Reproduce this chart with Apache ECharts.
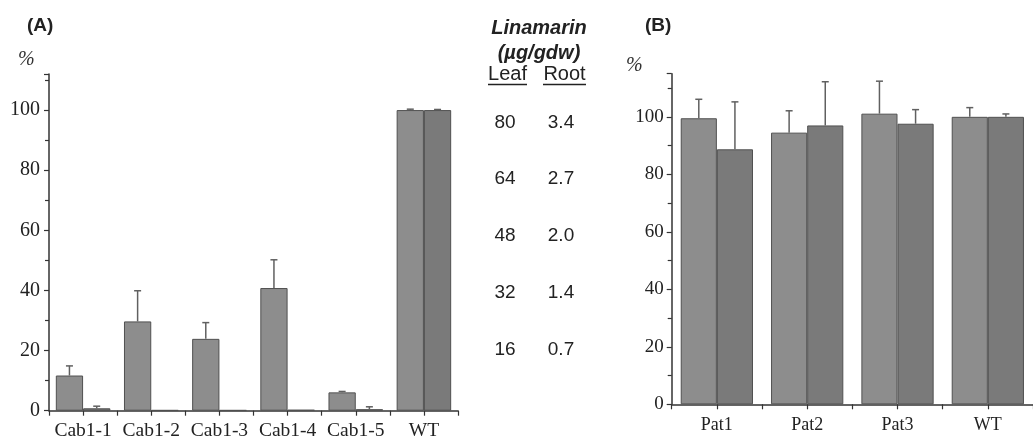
<!DOCTYPE html>
<html><head><meta charset="utf-8">
<script src="https://cdn.jsdelivr.net/npm/echarts@6/dist/echarts.min.js"></script>
<style>html,body{margin:0;padding:0;background:#fff}#c{width:1033px;height:441px}</style>
</head><body><div id="c"></div>
<script>
// Panel A data
const catsA = ['Cab1-1','Cab1-2','Cab1-3','Cab1-4','Cab1-5','WT'];
const leafA = [11.7, 29.7, 23.9, 40.8, 6.1, 100];
const rootA = [0.8, 0.2, 0.2, 0.3, 0.5, 100];
const leafErrA = [3.2, 10.2, 5.4, 9.4, 0.3, 0.3];
const rootErrA = [0.7, 0, 0, 0, 0.8, 0.2];
// Panel B data
const catsB = ['Pat1','Pat2','Pat3','WT'];
const leafB = [99.5, 94.5, 101.1, 100];
const rootB = [88.7, 97.0, 97.6, 100];
const leafErrB = [6.6, 7.6, 11.3, 3.2];
const rootErrB = [16.5, 15.2, 4.9, 1.0];
// Linamarin table
const tableLeaf = ['80','64','48','32','16'];
const tableRoot = ['3.4','2.7','2.0','1.4','0.7'];

const LEAF = '#8d8d8d', ROOT = '#7a7a7a', EDGE = '#505050', AX = '#333';
const serif = 'Liberation Serif', sans = 'Liberation Sans';

function errItem(sign) {
  return function (params, api) {
    const i = api.value(0), v = api.value(1), e = api.value(2);
    if (!(e > 0)) return null;
    const band = api.size([1, 0])[0];
    const bw = band * 0.8 / 2;
    const b = api.coord([i, v]), t = api.coord([i, v + e]);
    const x = b[0] + sign * bw / 2;
    const st = { stroke: '#606060', lineWidth: 1.5 };
    return { type: 'group', children: [
      { type: 'line', shape: { x1: x, y1: b[1], x2: x, y2: t[1] }, style: st },
      { type: 'line', shape: { x1: x - 3.5, y1: t[1], x2: x + 3.5, y2: t[1] }, style: st }
    ]};
  };
}
function errData(vals, errs) { return vals.map((v, i) => [i, v, errs[i]]); }

function yAxis(gi, max, fs, margin) {
  return {
    type: 'value', gridIndex: gi, min: 0, max: max, interval: 20,
    axisLine: { show: true, lineStyle: { color: AX, width: 1.5 } },
    axisTick: { show: true, inside: false, length: 5, lineStyle: { color: AX, width: 1.2 } },
    minorTick: { show: true, splitNumber: 2, length: 4, lineStyle: { color: AX, width: 1.2 } },
    splitLine: { show: false },
    axisLabel: { fontFamily: serif, fontSize: fs, color: '#222', margin: margin, showMaxLabel: false,
      formatter: v => (v % 20 === 0 ? String(v) : '') }
  };
}
function xAxes(gi, cats, fs, margin) {
  return [{
    type: 'category', gridIndex: gi, data: cats,
    axisLine: { show: true, lineStyle: { color: AX, width: 1.5 } },
    axisTick: { show: true, length: 5, alignWithLabel: false, interval: 0, lineStyle: { color: AX, width: 1.2 } },
    axisLabel: { fontFamily: serif, fontSize: fs, color: '#222', margin: margin, interval: 0, hideOverlap: false }
  }, {
    type: 'category', gridIndex: gi, data: cats, position: 'bottom',
    axisLine: { show: false },
    axisTick: { show: true, length: 5, alignWithLabel: true, interval: 0, lineStyle: { color: AX, width: 1.2 } },
    axisLabel: { show: false }
  }];
}
function bar(xi, yi, data, color) {
  return { type: 'bar', xAxisIndex: xi, yAxisIndex: yi, data: data, barGap: '0%', barCategoryGap: '20%',
    itemStyle: { color: color, borderColor: EDGE, borderWidth: 1 }, z: 2, animation: false };
}
function errSeries(xi, yi, vals, errs, sign) {
  return { type: 'custom', xAxisIndex: xi, yAxisIndex: yi, data: errData(vals, errs),
    renderItem: errItem(sign), encode: { x: 0, y: 1 }, z: 3, animation: false };
}

const graphics = [
  { type: 'text', left: 27, top: 16, style: { text: '(A)', font: 'bold 19px "Liberation Sans"', fill: '#222' } },
  { type: 'text', left: 645, top: 16, style: { text: '(B)', font: 'bold 19px "Liberation Sans"', fill: '#222' } },
  { type: 'text', left: 18, top: 50, style: { text: '%', font: 'italic 20px "Liberation Serif"', fill: '#333' } },
  { type: 'text', left: 626, top: 56, style: { text: '%', font: 'italic 20px "Liberation Serif"', fill: '#333' } },
  { type: 'text', x: 539, y: 28, style: { text: 'Linamarin', font: 'bold italic 20px "Liberation Sans"', fill: '#222', align: 'center', verticalAlign: 'middle' } },
  { type: 'text', x: 539, y: 53, style: { text: '(µg/gdw)', font: 'bold italic 20px "Liberation Sans"', fill: '#222', align: 'center', verticalAlign: 'middle' } },
  { type: 'text', x: 507.5, y: 74, style: { text: 'Leaf', font: '20px "Liberation Sans"', fill: '#222', align: 'center', verticalAlign: 'middle' } },
  { type: 'text', x: 564.5, y: 74, style: { text: 'Root', font: '20px "Liberation Sans"', fill: '#222', align: 'center', verticalAlign: 'middle' } },
  { type: 'line', shape: { x1: 488, y1: 84.5, x2: 527, y2: 84.5 }, style: { stroke: '#222', lineWidth: 1.3 } },
  { type: 'line', shape: { x1: 543, y1: 84.5, x2: 586, y2: 84.5 }, style: { stroke: '#222', lineWidth: 1.3 } }
];
const rowsY = [122.7, 179, 235.7, 293, 350];
tableLeaf.forEach((t, i) => {
  graphics.push({ type: 'text', x: 505, y: rowsY[i], style: { text: t, font: '19px "Liberation Sans"', fill: '#222', align: 'center', verticalAlign: 'middle' } });
  graphics.push({ type: 'text', x: 561, y: rowsY[i], style: { text: tableRoot[i], font: '19px "Liberation Sans"', fill: '#222', align: 'center', verticalAlign: 'middle' } });
});

const chart = echarts.init(document.getElementById('c'), null, { renderer: 'canvas' });
chart.setOption({
  animation: false,
  backgroundColor: '#fff',
  grid: [
    { left: 49, right: 575, top: 74, bottom: 30.3, containLabel: false },
    { left: 671.7, right: -9.5, top: 73.7, bottom: 36.7, containLabel: false }
  ],
  xAxis: [...xAxes(0, catsA, 19.5, 10), ...xAxes(1, catsB, 18, 12)],
  yAxis: [yAxis(0, 112, 20, 9), yAxis(1, 115, 19, 8)],
  series: [
    bar(0, 0, leafA, LEAF), bar(0, 0, rootA, ROOT),
    errSeries(0, 0, leafA, leafErrA, -1), errSeries(0, 0, rootA, rootErrA, 1),
    bar(2, 1, leafB, LEAF), bar(2, 1, rootB, ROOT),
    errSeries(2, 1, leafB, leafErrB, -1), errSeries(2, 1, rootB, rootErrB, 1)
  ],
  graphic: graphics
});
</script>
</body></html>
